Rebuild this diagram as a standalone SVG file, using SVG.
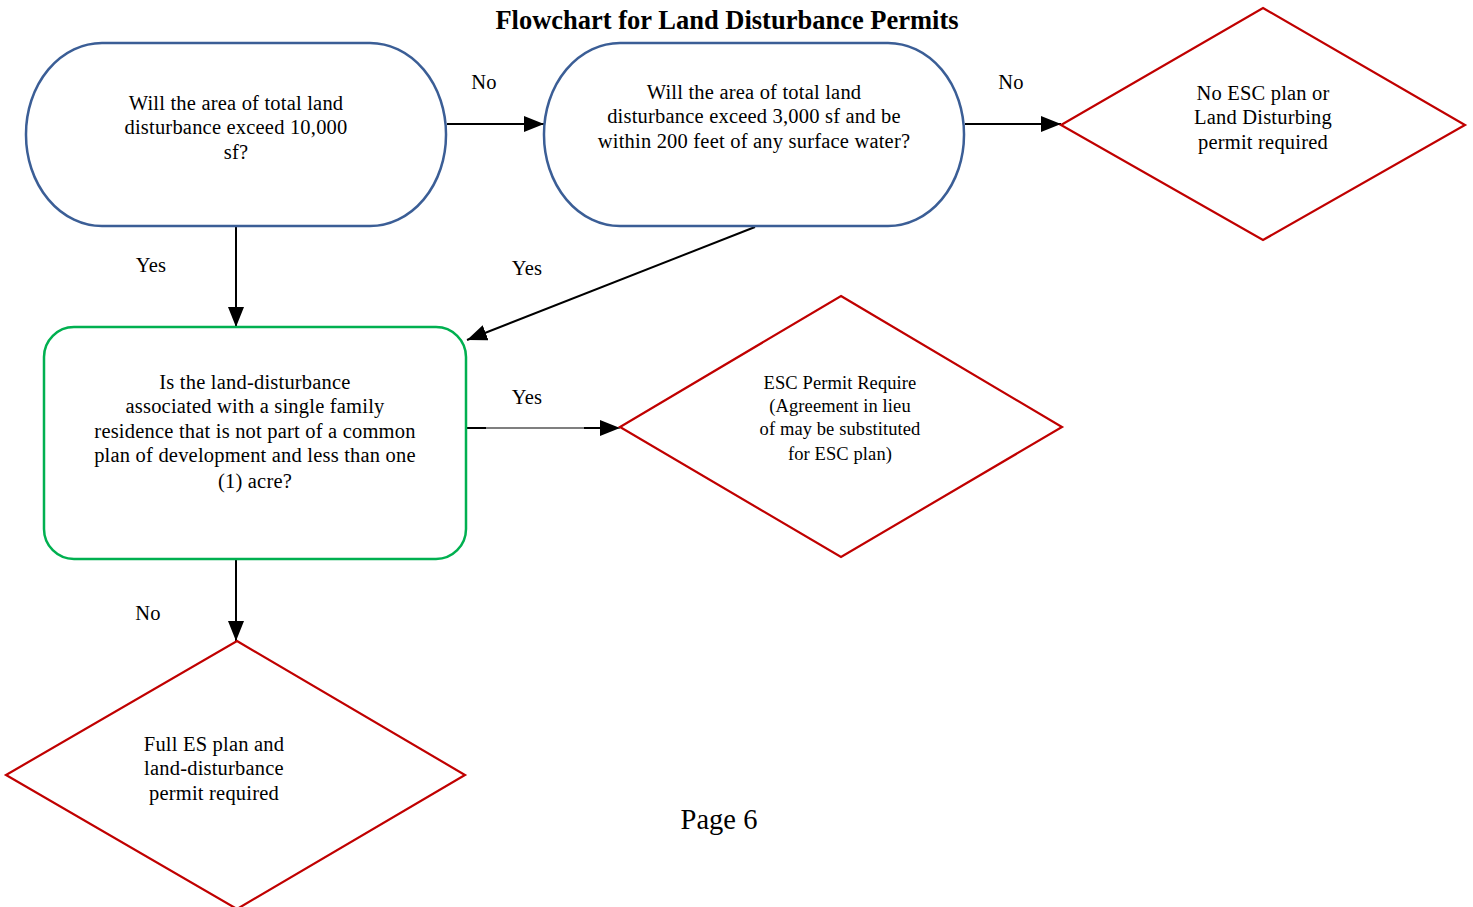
<svg xmlns="http://www.w3.org/2000/svg" width="1473" height="907" viewBox="0 0 1473 907">
  <style>
    .txt { font-family: "Liberation Serif", "Times New Roman", serif; fill: #000; text-anchor: middle; }
    .body { font-size: 20.5px; letter-spacing: 0.2px; }
    .small { font-size: 18.5px; letter-spacing: 0.1px; }
    .title { font-size: 26.5px; font-weight: bold; }
    .page { font-size: 28.5px; }
    .term { fill: #fff; stroke: #3B5E96; stroke-width: 2.5; }
    .proc { fill: #fff; stroke: #00B050; stroke-width: 2.5; }
    .end { fill: #fff; stroke: #C00000; stroke-width: 2.2; }
    .conn { fill: none; stroke: #000; stroke-width: 2; }
    .thin { fill: none; stroke: #000; stroke-width: 1.2; }
  </style>
  <defs>
    <marker id="arrowBig" viewBox="0 0 20 16" refX="20" refY="8" markerWidth="20" markerHeight="16" markerUnits="userSpaceOnUse" orient="auto">
      <path d="M0,0 L20,8 L0,16 z" fill="#000"/>
    </marker>
  </defs>

  <rect width="1473" height="907" fill="#fff"/>

  <text class="txt title" x="727" y="29">Flowchart for Land Disturbance Permits</text>

  <!-- connectors -->
  <g id="connectors">
    <line class="conn" x1="447" y1="124" x2="544" y2="124" marker-end="url(#arrowBig)"/>
    <line class="conn" x1="965" y1="124" x2="1061" y2="124" marker-end="url(#arrowBig)"/>
    <line class="conn" x1="236" y1="227" x2="236" y2="327" marker-end="url(#arrowBig)"/>
    <line class="conn" x1="755" y1="227" x2="467" y2="340" marker-end="url(#arrowBig)"/>
    <line class="thin" x1="466" y1="428" x2="620" y2="428" marker-end="url(#arrowBig)"/>
    <line class="conn" x1="466" y1="428" x2="486" y2="428"/>
    <line class="conn" x1="584" y1="428" x2="604" y2="428"/>
    <line class="conn" x1="236" y1="560" x2="236" y2="641" marker-end="url(#arrowBig)"/>

    <text class="txt body" x="484" y="89">No</text>
    <text class="txt body" x="1011" y="89">No</text>
    <text class="txt body" x="151" y="272">Yes</text>
    <text class="txt body" x="527" y="275">Yes</text>
    <text class="txt body" x="527" y="404">Yes</text>
    <text class="txt body" x="148" y="620">No</text>
  </g>

  <!-- start question: over 10,000 sf -->
  <g id="q-area-10000">
    <rect class="term" x="26" y="43" width="420" height="183" rx="76" ry="91"/>
    <text class="txt body" x="236" y="110">Will the area of total land</text>
    <text class="txt body" x="236" y="134">disturbance exceed 10,000</text>
    <text class="txt body" x="236" y="159">sf?</text>
  </g>

  <!-- question: 3,000 sf near surface water -->
  <g id="q-area-3000">
    <rect class="term" x="544" y="43" width="420" height="183" rx="76" ry="91"/>
    <text class="txt body" x="754" y="99">Will the area of total land</text>
    <text class="txt body" x="754" y="123">disturbance exceed 3,000 sf and be</text>
    <text class="txt body" x="754" y="148">within 200 feet of any surface water?</text>
  </g>

  <!-- outcome: nothing required -->
  <g id="r-none">
    <polygon class="end" points="1263,8 1465,125 1263,240 1061,125"/>
    <text class="txt body" x="1263" y="100">No ESC plan or</text>
    <text class="txt body" x="1263" y="124">Land Disturbing</text>
    <text class="txt body" x="1263" y="149">permit required</text>
  </g>

  <!-- question: single family residence -->
  <g id="q-single-family">
    <rect class="proc" x="44" y="327" width="422" height="232" rx="30" ry="30"/>
    <text class="txt body" x="255" y="389">Is the land-disturbance</text>
    <text class="txt body" x="255" y="413">associated with a single family</text>
    <text class="txt body" x="255" y="438">residence that is not part of a common</text>
    <text class="txt body" x="255" y="462">plan of development and less than one</text>
    <text class="txt body" x="255" y="488">(1) acre?</text>
  </g>

  <!-- outcome: ESC permit / agreement in lieu -->
  <g id="r-esc-permit">
    <polygon class="end" points="841,296 1062,427 841,557 620,427"/>
    <text class="txt small" x="840" y="389">ESC Permit Require</text>
    <text class="txt small" x="840" y="412">(Agreement in lieu</text>
    <text class="txt small" x="840" y="435">of may be substituted</text>
    <text class="txt small" x="840" y="460">for ESC plan)</text>
  </g>

  <!-- outcome: full ES plan -->
  <g id="r-full-plan">
    <polygon class="end" points="237,641 465,775 237,909 6,775"/>
    <text class="txt body" x="214" y="751">Full ES plan and</text>
    <text class="txt body" x="214" y="775">land-disturbance</text>
    <text class="txt body" x="214" y="800">permit required</text>
  </g>

  <text class="txt page" x="719" y="829">Page 6</text>
</svg>
